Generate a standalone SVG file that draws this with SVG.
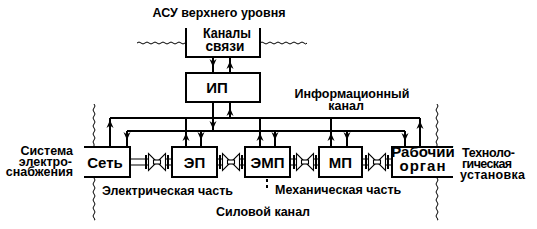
<svg xmlns="http://www.w3.org/2000/svg" width="537" height="229" viewBox="0 0 537 229">
<style>
.t{font-family:"Liberation Sans",Arial,sans-serif;font-weight:bold;font-size:12.5px;fill:#000}
.b{font-family:"Liberation Sans",Arial,sans-serif;font-weight:bold;font-size:15px;fill:#000;text-anchor:middle}
.box{fill:none;stroke:#000;stroke-width:2}
.ln{fill:none;stroke:#000;stroke-width:2}
.wv{fill:none;stroke:#000;stroke-width:1}
</style>
<defs>
<path id="ad" d="M0,0 L-3.5,-8 L0,-5.5 L3.5,-8 Z"/>
<path id="au" d="M0,0 L-3.5,8 L0,5.5 L3.5,8 Z"/>
<g id="cp">
<rect x="-12" y="-7" width="2" height="14" fill="#000"/>
<rect x="10" y="-7" width="2" height="14" fill="#000"/>
<path d="M-9,-3 H-10 M-9,3 H-10 M9,-3 H10 M9,3 H10" stroke="#000" stroke-width="1"/>
<path d="M-8.5,-8.5 L-8.5,8.5 L0,0 Z M8.5,-8.5 L8.5,8.5 L0,0 Z" fill="#fff" stroke="#000" stroke-width="1.1" stroke-linejoin="miter"/>
<rect x="-3.5" y="-2" width="7" height="4" fill="#fff" stroke="#000" stroke-width="1.1"/>
</g>
</defs>
<rect width="537" height="229" fill="#fff"/>

<g id="labels">
<text class="t" x="219" y="17" text-anchor="middle">АСУ верхнего уровня</text>
<text class="t" x="352" y="98" text-anchor="middle">Информационный</text>
<text class="t" x="346" y="110" text-anchor="middle">канал</text>
<text class="t" x="73" y="155" text-anchor="end">Система</text>
<text class="t" x="72" y="165.5" text-anchor="end">электро-</text>
<text class="t" x="73" y="176" text-anchor="end">снабжения</text>
<text class="t" x="462" y="157" textLength="53">Техноло-</text>
<text class="t" x="462" y="168" textLength="50">гическая</text>
<text class="t" x="460" y="179" textLength="65">установка</text>
<text class="t" x="102" y="195">Электрическая часть</text>
<text class="t" x="275" y="194">Механическая  часть</text>
<text class="t" x="263" y="216" text-anchor="middle">Силовой канал</text>
</g>

<g id="waves">
<path class="wv" d="M137,43 q2,-2 4,0 t4,0 t4,0 t4,0 t4,0 t4,0 t4,0 t4,0 t4,0 t4,0 t4,0 t4,0 l1,0"/>
<path class="wv" d="M260,43 q2,-2 4,0 t4,0 t4,0 t4,0 t4,0 t4,0 t4,0 t4,0 t4,0 t4,0 t4,0 t3,0"/>
<path class="wv" d="M94,104 q2,2 0,4 t0,4 t0,4 t0,4 t0,4 t0,4 t0,4 t0,4 t0,4 t0,4 l0,2"/>
<path class="wv" d="M94,178 q2,2 0,4 t0,4 t0,4 t0,4 t0,4 t0,4 t0,4 t0,4 t0,4 t0,4 t0,2"/>
<path class="wv" d="M437,104 q2,2 0,4 t0,4 t0,4 t0,4 t0,4 t0,4 t0,4 t0,4 t0,4 t0,4 l0,2"/>
<path class="wv" d="M437,178 q2,2 0,4 t0,4 t0,4 t0,4 t0,4 t0,4 t0,4 t0,4 t0,4 t0,4 t0,2"/>
<path d="M267,179 V191" stroke="#000" stroke-width="2" stroke-dasharray="3,3"/>
</g>

<g id="kanaly">
<path class="box" d="M186,28 V57 H260 V28"/>
<text class="b" x="227" y="37.5" font-size="13.5" textLength="48" lengthAdjust="spacingAndGlyphs">Каналы</text>
<text class="b" x="225" y="51" font-size="13.5" textLength="39" lengthAdjust="spacingAndGlyphs">связи</text>
</g>
<g id="ip">
<rect class="box" x="186" y="73" width="74" height="29"/>
<text class="b" x="217" y="93">ИП</text>
</g>
<g id="set">
<path class="box" d="M84,147 H130 V177 H84"/>
<text class="b" x="105" y="168">Сеть</text>
</g>
<g id="ep">
<rect class="box" x="172" y="147" width="45" height="30"/>
<text class="b" x="194.5" y="168">ЭП</text>
</g>
<g id="emp">
<rect class="box" x="245" y="147" width="45" height="30"/>
<text class="b" x="267.5" y="168">ЭМП</text>
</g>
<g id="mp">
<rect class="box" x="319" y="147" width="43" height="30"/>
<text class="b" x="340.5" y="168">МП</text>
</g>
<g id="ro">
<path class="box" d="M453,147 H392 V177 H453"/>
<text class="b" x="423" y="157" font-weight="normal" font-size="14.5">Рабочий</text>
<text class="b" x="423" y="171" font-weight="normal" font-size="14.5" letter-spacing="1">орган</text>
</g>

<g id="connectors">
<path class="ln" d="M213,57 V73 M230,57 V73"/>
<use href="#ad" x="213" y="67"/>
<use href="#au" x="230" y="61"/>
<path class="ln" d="M213,102 V131 M230,102 V118"/>
<use href="#ad" x="213" y="129"/>
<use href="#au" x="230" y="108"/>
<path class="ln" d="M110,118 H420 M127,131 H405"/>
<path class="ln" d="M110,147 V118 M127,131 V147"/>
<use href="#au" x="110" y="120"/>
<use href="#ad" x="127" y="140"/>
<path class="ln" d="M186,147 V118 M201,131 V147"/>
<use href="#au" x="186" y="133"/>
<use href="#ad" x="201" y="140"/>
<path class="ln" d="M260,147 V118 M275,131 V147"/>
<use href="#au" x="260" y="133"/>
<use href="#ad" x="275" y="140"/>
<path class="ln" d="M331,147 V118 M347,131 V147"/>
<use href="#au" x="331" y="133"/>
<use href="#ad" x="347" y="140"/>
<path class="ln" d="M420,147 V118 M405,131 V147"/>
<use href="#au" x="420" y="121"/>
<use href="#ad" x="405" y="141"/>
<path d="M130,159 H145 M130,165 H145 M169,159 H172 M169,165 H172 M217,159 H219 M217,165 H219 M243,159 H245 M243,165 H245 M290,159 H293 M290,165 H293 M317,159 H319 M317,165 H319 M362,159 H365 M362,165 H365 M389,159 H392 M389,165 H392" stroke="#000" stroke-width="1.2"/>
<use href="#cp" x="157" y="162"/>
<use href="#cp" x="231" y="162"/>
<use href="#cp" x="305" y="162"/>
<use href="#cp" x="377" y="162"/>
</g>
</svg>
